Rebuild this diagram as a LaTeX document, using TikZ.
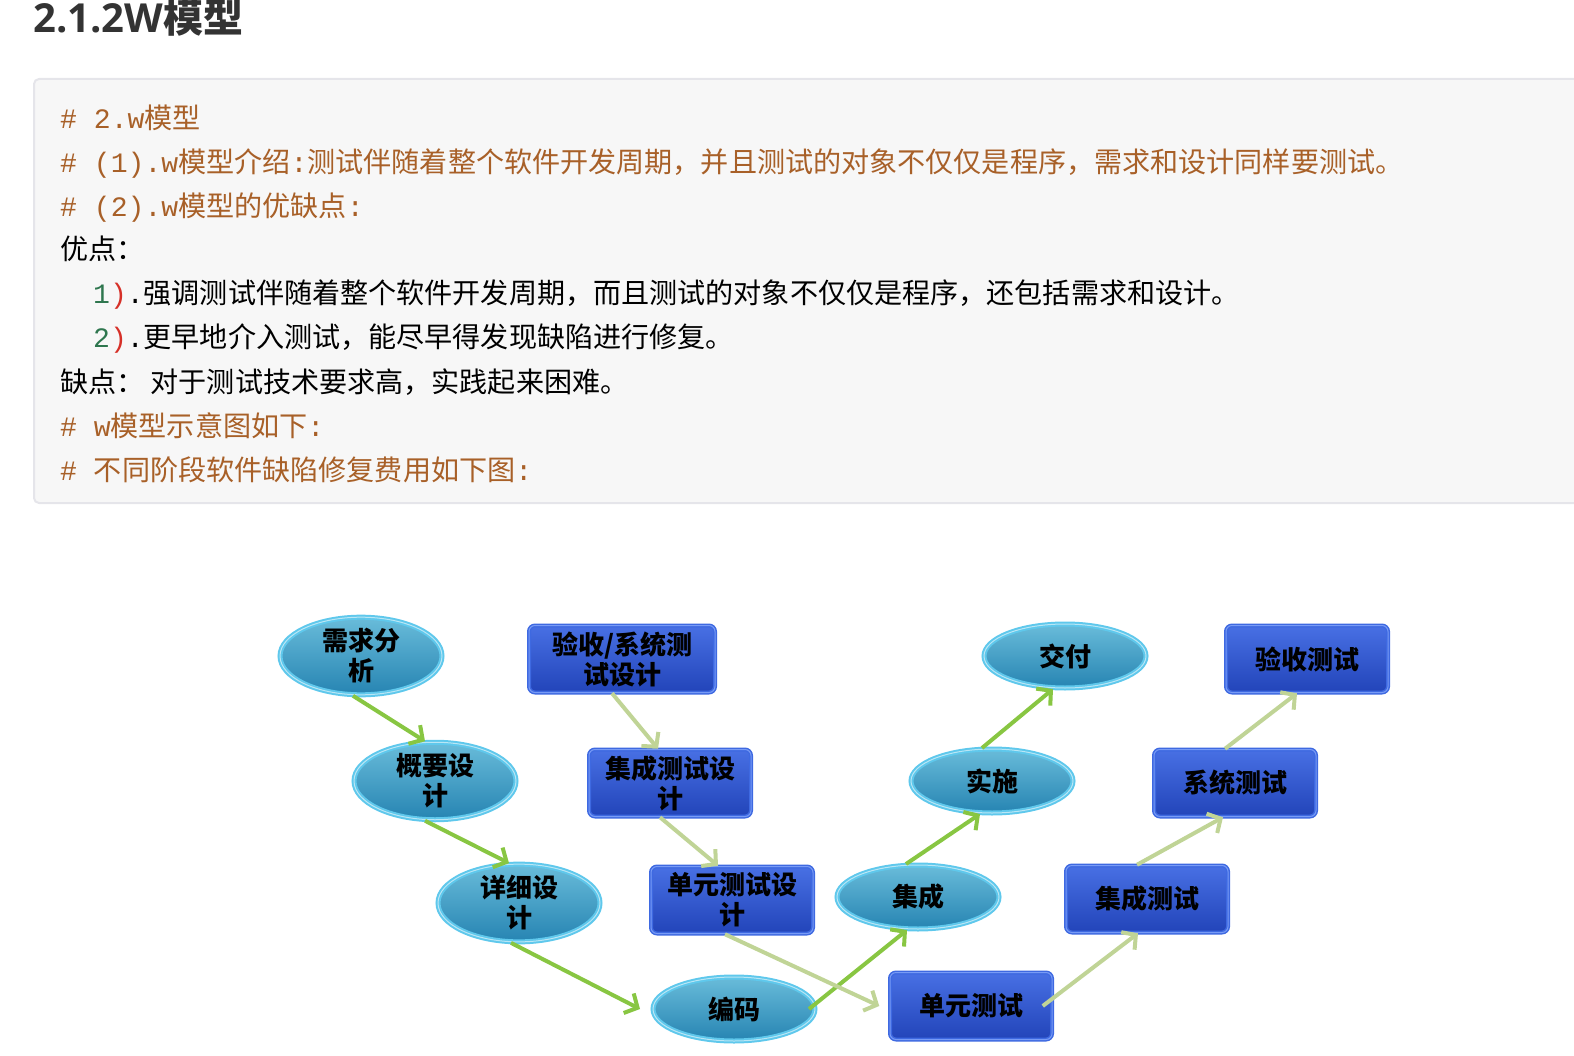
\documentclass[tikz,border=0pt]{standalone}
\usepackage{fontspec}
\setmainfont{Noto Sans CJK SC}
\newfontfamily\mono{Liberation Mono}
\newfontfamily\headfont{Open Sans}
\usetikzlibrary{shapes.geometric,arrows.meta}

\definecolor{codebg}{RGB}{247,247,247}
\definecolor{codeborder}{RGB}{229,229,234}
\definecolor{codebrown}{RGB}{168,96,40}
\definecolor{numgreen}{RGB}{46,118,78}
\definecolor{parred}{RGB}{214,48,40}
\definecolor{headgray}{RGB}{51,51,51}
\definecolor{arrgreen}{RGB}{136,198,66}
\definecolor{arrpale}{RGB}{192,212,150}
\definecolor{elltop}{RGB}{105,188,218}
\definecolor{ellbot}{RGB}{38,132,178}
\definecolor{ellring}{RGB}{95,200,236}
\definecolor{ellinner}{RGB}{185,230,245}
\definecolor{boxtop}{RGB}{72,112,228}
\definecolor{boxbot}{RGB}{34,68,185}
\definecolor{boxring}{RGB}{62,105,225}
\definecolor{boxinner}{RGB}{120,155,245}

\newcommand{\asc}[1]{{\mono #1}}

\tikzset{
  codeline/.style={anchor=base west, inner sep=0pt, font=\fontsize{28.1}{33}\selectfont},
  wmell/.style={ellipse, minimum width=162pt, minimum height=64pt, inner sep=0pt,
    top color=elltop, bottom color=ellbot, draw=ellring, double=ellinner,
    line width=2pt, double distance=1pt, align=center,
    font=\fontsize{26}{30}\selectfont\bfseries},
  wmbox/.style={rectangle, minimum width=162pt, minimum height=67pt, inner sep=0pt,
    rounded corners=6pt, top color=boxtop, bottom color=boxbot, draw=boxring,
    double=boxinner, line width=1.5pt, double distance=1pt, align=center,
    font=\fontsize{26}{30}\selectfont\bfseries},
  devarrow/.style={-{Straight Barb[length=10pt,width=22pt]}, line width=4pt, arrgreen},
  testarrow/.style={-{Straight Barb[length=10pt,width=22pt]}, line width=4pt, arrpale},
}

\begin{document}
\begin{tikzpicture}[x=1pt, y=-1pt]
  \useasboundingbox (0,0) rectangle (1574,1056);

  % --- heading and code block ---
  \node[anchor=base west, inner sep=0pt, text=headgray, font=\fontsize{40}{44}\selectfont\bfseries]
    (title) at (33,33) {{\headfont 2.1.2W}模型};
  \draw[codeborder, fill=codebg, line width=2pt, rounded corners=5pt] (34,79) rectangle (1620,503);

  \node[codeline, text=codebrown] (l1) at (60,129) {\asc{\# 2.w}模型};
  \node[codeline, text=codebrown] (l2) at (60,173)
    {\asc{\# (1).w}模型介绍\asc{:}测试伴随着整个软件开发周期，并且测试的对象不仅仅是程序，需求和设计同样要测试。};
  \node[codeline, text=codebrown] (l3) at (60,217) {\asc{\# (2).w}模型的优缺点\asc{:}};
  \node[codeline] (l4) at (60,260) {优点：};
  \node[codeline] (l5) at (93,304)
    {\asc{\textcolor{numgreen}{1}\textcolor{parred}{)}.}强调测试伴随着整个软件开发周期，而且测试的对象不仅仅是程序，还包括需求和设计。};
  \node[codeline] (l6) at (93,348)
    {\asc{\textcolor{numgreen}{2}\textcolor{parred}{)}.}更早地介入测试，能尽早得发现缺陷进行修复。};
  \node[codeline] (l7) at (60,392) {缺点： 对于测试技术要求高，实践起来困难。};
  \node[codeline, text=codebrown] (l8) at (60,436) {\asc{\# w}模型示意图如下\asc{:}};
  \node[codeline, text=codebrown] (l9) at (60,480) {\asc{\# }不同阶段软件缺陷修复费用如下图\asc{:}};

  % --- development side (ellipses) ---
  \node[wmell] (xq) at (361,656) {需求分\\析};
  \node[wmell] (gy) at (435,781) {概要设\\计};
  \node[wmell] (xx) at (519,903) {详细设\\计};
  \node[wmell] (bm) at (734,1009) {编码};
  \node[wmell] (jc) at (918,897) {集成};
  \node[wmell] (ss) at (992,781) {实施};
  \node[wmell] (jf) at (1065,656) {交付};

  % --- test side (boxes) ---
  \node[wmbox, minimum width=186pt] (ysd) at (622,659) {验收/系统测\\试设计};
  \node[wmbox] (jsd) at (670,783) {集成测试设\\计};
  \node[wmbox] (dsd) at (732,900) {单元测试设\\计};
  \node[wmbox] (dcs) at (971,1006) {单元测试};
  \node[wmbox] (jcs) at (1147,899) {集成测试};
  \node[wmbox] (xcs) at (1235,783) {系统测试};
  \node[wmbox] (yss) at (1307,659) {验收测试};

  % development arrows
  \draw[devarrow] ([xshift=-8pt]xq.south) -- ([xshift=-10pt]gy.north);
  \draw[devarrow] ([xshift=-10pt]gy.south) -- ([xshift=-10pt]xx.north);
  \draw[devarrow] ([xshift=-8pt]xx.south) -- ([xshift=-12pt]bm.west);
  \draw[devarrow] ([xshift=-7pt]bm.east) -- ([xshift=-11pt]jc.south);
  \draw[devarrow] ([xshift=-12pt]jc.north) -- ([xshift=-12pt]ss.south);
  \draw[devarrow] ([xshift=-10pt]ss.north) -- ([xshift=-12pt]jf.south);

  % test arrows
  \draw[testarrow] ([xshift=-10pt]ysd.south) -- ([xshift=-12pt]jsd.north);
  \draw[testarrow] ([xshift=-10pt]jsd.south) -- ([xshift=-14pt]dsd.north);
  \draw[testarrow] ([xshift=-7pt]dsd.south) -- ([xshift=-10pt]dcs.west);
  \draw[testarrow] ([xshift=-10pt]dcs.east) -- ([xshift=-9pt]jcs.south);
  \draw[testarrow] ([xshift=-10pt]jcs.north) -- ([xshift=-12pt]xcs.south);
  \draw[testarrow] ([xshift=-10pt]xcs.north) -- ([xshift=-10pt]yss.south);
\end{tikzpicture}
\end{document}
